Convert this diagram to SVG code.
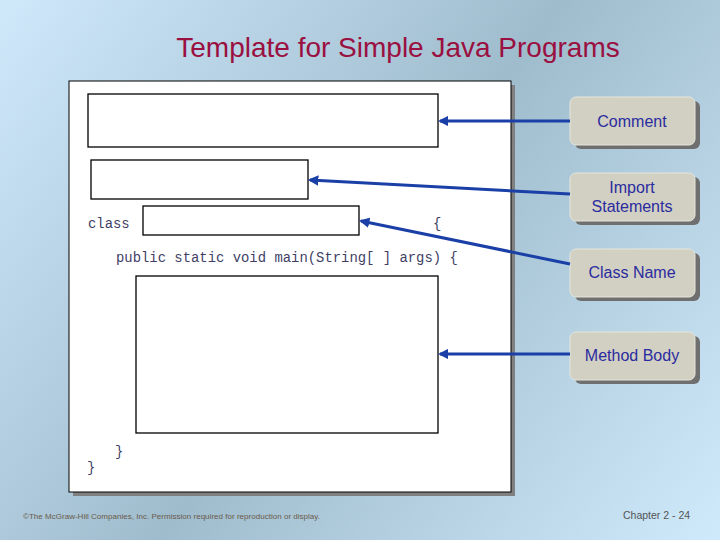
<svg xmlns="http://www.w3.org/2000/svg" width="720" height="540" viewBox="0 0 720 540">
<defs>
<linearGradient id="bg" x1="0" y1="0" x2="720" y2="540" gradientUnits="userSpaceOnUse">
<stop offset="0" stop-color="#cfe9fb"/>
<stop offset="0.5" stop-color="#9fbccd"/>
<stop offset="1" stop-color="#cfeafb"/>
</linearGradient>
<marker id="ah" viewBox="0 0 10 10" refX="8" refY="5" markerWidth="3.5" markerHeight="3.5" orient="auto">
<path d="M0,0 L10,5 L0,10 z" fill="#1a3fa6"/>
</marker>
<style>
.box{fill:#fff;stroke:#000;stroke-width:1.3}
.code{font-family:"Liberation Mono",monospace;font-size:13.9px;fill:#3f3f66}
.lbl{font-family:"Liberation Sans",Arial,sans-serif;font-size:16px;fill:#2b2ba0;text-anchor:middle}
.lb{fill:#d1d0c2;stroke:#e6e6da;stroke-width:1}
.sh{fill:#6f6f6f}
.arr{stroke:#1a3fa6;stroke-width:3;fill:none;marker-end:url(#ah)}
</style>
</defs>
<rect width="720" height="540" fill="url(#bg)"/>
<text x="398" y="57" font-family="Liberation Sans,Arial,sans-serif" font-size="28" fill="#9a1040" text-anchor="middle">Template for Simple Java Programs</text>
<g id="panel">
<rect x="73" y="85" width="442" height="411" fill="#808080"/>
<rect x="69" y="81" width="442" height="411" fill="#fff" stroke="#000" stroke-width="1"/>
<rect class="box" x="88" y="94" width="350" height="53"/>
<rect class="box" x="91" y="160" width="217" height="39"/>
<rect class="box" x="143" y="206" width="216" height="29"/>
<rect class="box" x="136" y="276" width="302" height="157"/>
<text class="code" x="88" y="228">class</text>
<text class="code" x="433" y="228">{</text>
<text class="code" x="116" y="262">public static void main(String[ ] args) {</text>
<text class="code" x="115" y="456">}</text>
<text class="code" x="87" y="472">}</text>
</g>
<g id="comment">
<rect class="sh" x="575" y="101" width="125" height="48" rx="6"/>
<rect class="lb" x="570" y="97" width="125" height="48" rx="6"/>
<text class="lbl" x="632" y="127">Comment</text>
</g>
<g id="import">
<rect class="sh" x="575" y="177" width="125" height="48" rx="6"/>
<rect class="lb" x="570" y="173" width="125" height="48" rx="6"/>
<text class="lbl" x="632" y="193">Import</text>
<text class="lbl" x="632" y="212">Statements</text>
</g>
<g id="classname">
<rect class="sh" x="575" y="253" width="125" height="48" rx="6"/>
<rect class="lb" x="570" y="249" width="125" height="48" rx="6"/>
<text class="lbl" x="632" y="278">Class Name</text>
</g>
<g id="methodbody">
<rect class="sh" x="575" y="336" width="125" height="48" rx="6"/>
<rect class="lb" x="570" y="332" width="125" height="48" rx="6"/>
<text class="lbl" x="632" y="361">Method Body</text>
</g>
<g id="connectors">
<line class="arr" x1="570" y1="121" x2="440" y2="121"/>
<line class="arr" x1="570" y1="194" x2="310" y2="180"/>
<line class="arr" x1="570" y1="264" x2="361" y2="221"/>
<line class="arr" x1="570" y1="354" x2="440" y2="354"/>
</g>
<text x="23" y="519" font-family="Liberation Sans,Arial,sans-serif" font-size="8" fill="#6a5a4a" textLength="297">©The McGraw-Hill Companies, Inc. Permission required for reproduction or display.</text>
<text x="623" y="519" font-family="Liberation Sans,Arial,sans-serif" font-size="10.5" fill="#555">Chapter 2 - 24</text>
</svg>
